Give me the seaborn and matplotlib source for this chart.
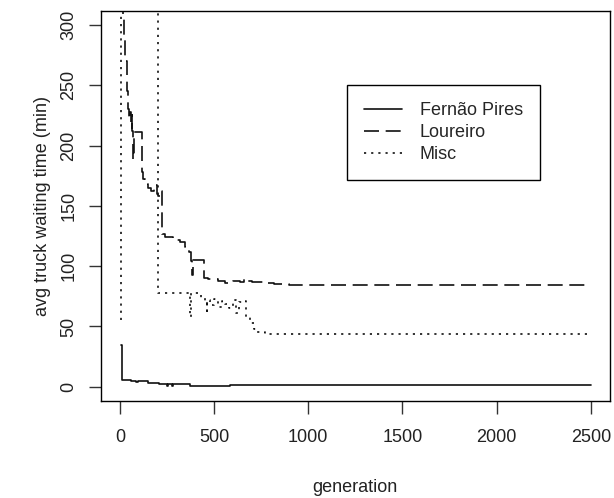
import matplotlib
matplotlib.use("Agg")
import matplotlib.pyplot as plt
import seaborn as sns
import pandas as pd

# ---- data ----
fp_gen = [6, 12, 60, 85, 95, 150, 210, 250, 255, 275, 280, 300, 372, 560, 585, 2500]
fp_val = [34.5, 5.5, 5.0, 4.2, 5.0, 3.3, 2.2, 1.0, 2.2, 1.0, 2.0, 2.0, 0.6, 0.6, 1.5, 1.5]

lo_gen = [10, 15, 22, 30, 36, 45, 50, 55, 58, 62, 66, 72, 73, 80, 118, 125, 135, 150,
          165, 180, 195, 205, 214, 222, 240, 280, 320, 345, 365, 380, 384, 390, 445,
          470, 520, 560, 600, 640, 660, 680, 700, 760, 820, 900, 2500]
lo_val = [340, 305, 292, 270, 245, 230, 222, 228, 215, 225, 212, 189, 211, 211, 178,
          172, 168, 165, 162, 167, 160, 158, 162, 127, 124, 122, 120, 116, 112, 104,
          93, 105, 90, 89, 88, 86, 88, 87, 89, 88, 87, 86, 85, 84, 84]

mi_gen = [5, 8, 205, 372, 376, 430, 450, 461, 465, 480, 500, 520, 540, 560, 580,
          600, 615, 630, 655, 670, 690, 710, 730, 770, 2500]
mi_val = [55, 400, 78, 58, 78, 74, 70, 63, 72, 68, 73, 66, 71, 69, 65, 72, 61, 70,
          71, 58, 53, 48, 45, 44, 44]

names = ["Fernão Pires", "Loureiro", "Misc"]

x_ticks = [0, 500, 1000, 1500, 2000, 2500]
y_ticks = [0, 50, 100, 150, 200, 250, 300]

sns.set_theme(style="white")
plt.rcParams["font.family"] = ["Liberation Sans", "DejaVu Sans"]

fig = plt.figure(figsize=(6.14, 4.98), dpi=100)
ax = fig.add_axes([101 / 614, 1 - 401.2 / 498, 508.6 / 614, 390.6 / 498])

series = [(fp_gen, fp_val, None),
          (lo_gen, lo_val, (9, 4)),
          (mi_gen, mi_val, (1.3, 3.0))]
for name, (g, v, dash) in zip(names, series):
    df = pd.DataFrame({"generation": g, "value": v})
    kw = dict(color="#111111", linewidth=1.2, drawstyle="steps-post", label=name)
    if dash is not None:
        kw["dashes"] = dash
    sns.lineplot(data=df, x="generation", y="value", ax=ax, estimator=None,
                 sort=False, **kw)

ax.set_xlim(-100, 2600)
ax.set_ylim(-12, 312)
ax.set_xticks(x_ticks)
ax.set_yticks(y_ticks)
ax.set_xticklabels([str(t) for t in x_ticks])
ax.set_yticklabels([str(t) for t in y_ticks], rotation=90, va="center")

for s in ax.spines.values():
    s.set_color("black")
    s.set_linewidth(1.0)
    s.set_visible(True)

ax.tick_params(axis="both", direction="out", length=9, width=1.0, color="#333333",
               labelsize=13, labelcolor="#222222")
ax.tick_params(axis="x", pad=11, bottom=True)
ax.tick_params(axis="y", pad=8, left=True)

ax.set_xlabel("generation", fontsize=13, labelpad=24, color="#222222")
ax.set_ylabel("avg truck waiting time (min)", fontsize=13, labelpad=7, color="#222222")

leg = ax.legend(loc="upper left", bbox_to_anchor=(0.483, 0.8095), borderaxespad=0,
                frameon=True, fancybox=False, framealpha=1, edgecolor="black",
                fontsize=13, handlelength=2.1, handletextpad=1.0, borderpad=0.95,
                labelspacing=0.28)
leg.get_frame().set_linewidth(1.0)

fig.savefig("out.png", dpi=100)
